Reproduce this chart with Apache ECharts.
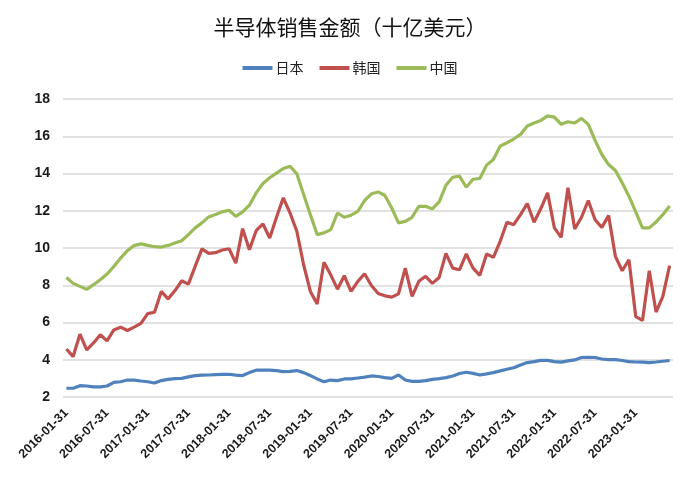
<!DOCTYPE html>
<html>
<head>
<meta charset="utf-8">
<title>半导体销售金额</title>
<script src="https://cdn.jsdelivr.net/npm/echarts@6/dist/echarts.min.js"></script>
<style>
  html, body { margin: 0; padding: 0; background: #fff; }
  #chart { width: 700px; height: 479px; }
</style>
</head>
<body>
<div id="chart"></div>
<script>
// 月末日期 2016-01 ~ 2023-06
var startYear = 2016, startMonth = 1, monthCount = 90;
var months = [];
for (var k = 0; k < monthCount; k++) {
  var y = startYear + Math.floor((startMonth - 1 + k) / 12);
  var m = (startMonth - 1 + k) % 12 + 1;
  var last = new Date(y, m, 0).getDate();
  months.push(y + '-' + (m < 10 ? '0' + m : m) + '-' + last);
}

var seriesNames = ['日本', '韩国', '中国'];

var japan = [
  2.47, 2.47, 2.61, 2.59, 2.54, 2.54, 2.59, 2.79, 2.82, 2.91, 2.91, 2.86,
  2.82, 2.75, 2.88, 2.95, 2.99, 3.00, 3.08, 3.15, 3.17, 3.18, 3.20, 3.22,
  3.22, 3.17, 3.15, 3.31, 3.44, 3.44, 3.44, 3.42, 3.36, 3.38, 3.42, 3.31,
  3.15, 2.97, 2.82, 2.91, 2.88, 2.97, 2.97, 3.02, 3.07, 3.13, 3.10, 3.04,
  3.00, 3.18, 2.91, 2.84, 2.84, 2.88, 2.95, 2.99, 3.04, 3.13, 3.26, 3.33,
  3.27, 3.18, 3.24, 3.31, 3.40, 3.49, 3.57, 3.72, 3.85, 3.90, 3.97, 3.97,
  3.90, 3.87, 3.94, 3.99, 4.12, 4.13, 4.12, 4.04, 4.01, 4.01, 3.96, 3.90,
  3.88, 3.87, 3.85, 3.88, 3.92, 3.96
];

var korea = [
  4.58, 4.17, 5.37, 4.53, 4.90, 5.34, 5.01, 5.60, 5.75, 5.57, 5.75, 5.95,
  6.48, 6.55, 7.67, 7.27, 7.70, 8.24, 8.06, 9.01, 9.95, 9.71, 9.75, 9.89,
  9.96, 9.19, 11.04, 9.91, 10.93, 11.29, 10.54, 11.65, 12.69, 11.88, 10.90, 9.10,
  7.67, 6.99, 9.23, 8.56, 7.79, 8.51, 7.67, 8.21, 8.62, 7.99, 7.56, 7.43,
  7.36, 7.54, 8.92, 7.40, 8.21, 8.48, 8.10, 8.42, 9.71, 8.92, 8.83, 9.68,
  8.92, 8.53, 9.68, 9.50, 10.36, 11.38, 11.25, 11.79, 12.39, 11.38, 12.12, 12.96,
  11.08, 10.57, 13.23, 11.02, 11.65, 12.55, 11.52, 11.11, 11.74, 9.55, 8.78, 9.37,
  6.32, 6.11, 8.78, 6.56, 7.40, 9.05
];

var china = [
  8.42, 8.10, 7.94, 7.78, 8.03, 8.30, 8.60, 9.01, 9.46, 9.86, 10.13, 10.22,
  10.14, 10.07, 10.05, 10.14, 10.27, 10.39, 10.72, 11.08, 11.35, 11.67, 11.80, 11.94,
  12.03, 11.70, 11.94, 12.30, 12.96, 13.46, 13.77, 14.02, 14.27, 14.39, 13.98, 12.87,
  11.79, 10.72, 10.81, 10.99, 11.88, 11.65, 11.76, 11.97, 12.55, 12.91, 13.01, 12.82,
  12.15, 11.35, 11.43, 11.65, 12.24, 12.24, 12.10, 12.48, 13.37, 13.80, 13.86, 13.26,
  13.69, 13.73, 14.45, 14.75, 15.47, 15.65, 15.85, 16.10, 16.55, 16.71, 16.85, 17.09,
  17.03, 16.64, 16.78, 16.71, 16.96, 16.64, 15.78, 15.02, 14.48, 14.16, 13.50, 12.78,
  11.94, 11.08, 11.08, 11.40, 11.79, 12.25
];

var yTicks = [2, 4, 6, 8, 10, 12, 14, 16, 18];
var colors = ['#4F81BD', '#C0504D', '#9BBB59'];
var seriesData = [japan, korea, china];

var chart = echarts.init(document.getElementById('chart'));

var option = {
  animation: false,
  color: colors,
  title: {
    text: '半导体销售金额（十亿美元）',
    left: 'center',
    top: 17,
    padding: 0,
    textStyle: {
      fontFamily: 'Noto Sans CJK SC',
      fontSize: 21,
      fontWeight: 'normal',
      color: '#111'
    }
  },
  legend: {
    data: seriesNames,
    top: 61,
    left: 'center',
    padding: 0,
    icon: 'rect',
    itemWidth: 30,
    itemHeight: 4,
    itemGap: 16,
    textStyle: {
      fontFamily: 'Noto Sans CJK SC',
      fontSize: 14,
      color: '#222',
      padding: [0, 0, 0, -2]
    }
  },
  grid: {
    left: 63,
    right: 27,
    top: 99,
    bottom: 82,
    containLabel: false
  },
  xAxis: {
    type: 'category',
    data: months,
    boundaryGap: true,
    axisLine: { show: false },
    axisTick: { show: false },
    axisLabel: {
      interval: 5,
      rotate: 45,
      margin: 14,
      fontFamily: 'Liberation Sans',
      fontSize: 12.5,
      fontWeight: 'bold',
      color: '#1a1a1a'
    },
    splitLine: { show: false }
  },
  yAxis: {
    type: 'value',
    min: yTicks[0],
    max: yTicks[yTicks.length - 1],
    interval: 2,
    axisLine: { show: false },
    axisTick: { show: false },
    axisLabel: {
      margin: 13,
      fontFamily: 'Liberation Sans',
      fontSize: 14,
      fontWeight: 'bold',
      color: '#1a1a1a'
    },
    splitLine: {
      lineStyle: { color: '#D9D9D9', width: 1.5 }
    }
  },
  series: seriesNames.map(function (name, i) {
    return {
      name: name,
      type: 'line',
      data: seriesData[i],
      showSymbol: false,
      symbol: 'none',
      lineStyle: { width: 3.2, color: colors[i] },
      itemStyle: { color: colors[i] }
    };
  })
};

chart.setOption(option);
</script>
</body>
</html>
